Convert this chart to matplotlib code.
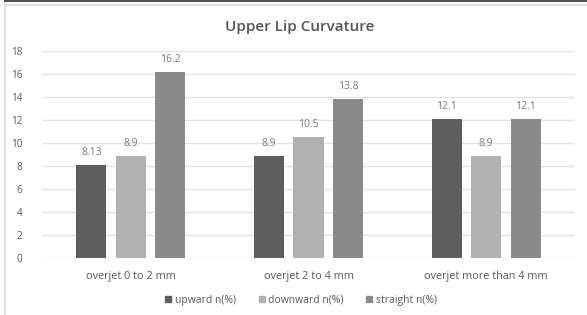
import numpy as np
import matplotlib.pyplot as plt
from matplotlib.lines import Line2D

categories = ['overjet 0 to 2 mm', 'overjet 2 to 4 mm', 'overjet more than 4 mm']
series_names = ['upward n(%)', 'downward n(%)', 'straight n(%)']
upward = [8.13, 8.9, 12.1]
downward = [8.9, 10.5, 8.9]
straight = [16.2, 13.8, 12.1]
labels_up = ['8.13', '8.9', '12.1']
labels_down = ['8.9', '10.5', '8.9']
labels_str = ['16.2', '13.8', '12.1']
yticks = [0, 2, 4, 6, 8, 10, 12, 14, 16, 18]

colors = ['#5e5e5e', '#b1b1b1', '#8a8a8a']

plt.rcParams['font.family'] = ['Open Sans', 'DejaVu Sans']

fig = plt.figure(figsize=(5.87, 3.15), dpi=100)
ax = fig.add_axes([42 / 587, 1 - 258 / 315, 533 / 587, 207 / 315])

x = np.arange(len(categories))
w = 0.17
step = 0.222
series = [upward, downward, straight]
texts = [labels_up, labels_down, labels_str]
for i, (vals, labs) in enumerate(zip(series, texts)):
    pos = x + (i - 1) * step
    ax.bar(pos, vals, width=w, color=colors[i], zorder=3, label=series_names[i])
    for p, v, t in zip(pos, vals, labs):
        ax.text(p, v + 0.6, t, ha='center', va='bottom', fontsize=7.5, color='#7a7a7a')

ax.set_xlim(-0.5, 2.5)
ax.set_ylim(0, 18)
ax.set_yticks(yticks)
ax.set_xticks(x)
ax.set_xticklabels(categories, fontsize=7.8)
ax.tick_params(axis='both', length=0, colors='#595959')
ax.tick_params(axis='y', pad=14, labelsize=7.2)
ax.tick_params(axis='x', pad=9)
ax.grid(axis='y', color='#e3e3e3', linewidth=1, zorder=0)
for s in ax.spines.values():
    s.set_visible(False)

fig.text(300 / 587, 1 - 27 / 315, 'Upper Lip Curvature', ha='center', va='center',
         fontsize=11, color='#555555', fontweight='semibold')

handles = [Line2D([], [], marker='s', linestyle='', color=c, markersize=4.5) for c in colors]
fig.legend(handles, series_names, loc='center', bbox_to_anchor=(300 / 587, 1 - 300 / 315),
           ncol=3, frameon=False, fontsize=7.5, handletextpad=0.1, columnspacing=2.0,
           handlelength=1.0, labelcolor='#595959')

# outer border lines
fig.add_artist(Line2D([5 / 587, 1], [1 - 1 / 315, 1 - 1 / 315], color='#555555', linewidth=1.5))
fig.add_artist(Line2D([5 / 587, 1], [1 - 5 / 315, 1 - 5 / 315], color='#e0e0e0', linewidth=1.5))
fig.add_artist(Line2D([5 / 587, 5 / 587], [0, 1 - 4 / 315], color='#e0e0e0', linewidth=1.5))

fig.savefig('out.png', dpi=100)
